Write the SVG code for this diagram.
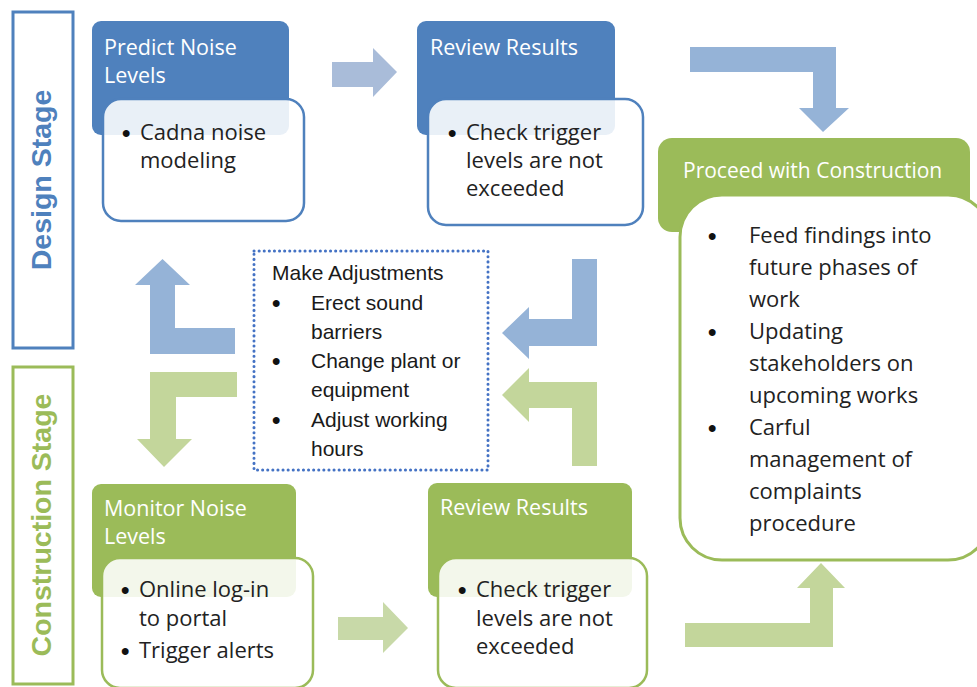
<svg xmlns="http://www.w3.org/2000/svg" width="977" height="687" viewBox="0 0 977 687">
  <style>
    .hdr-b { fill: #4f81bd; }
    .hdr-g { fill: #9bbb59; }
    .card-b { fill: #ffffff; fill-opacity: 0.88; stroke: #4f81bd; stroke-width: 2.5; }
    .card-g { fill: #ffffff; fill-opacity: 0.88; stroke: #9bbb59; stroke-width: 2.5; }
    .htxt { font-family: "Open Sans", "Liberation Sans", sans-serif; font-size: 21.5px; fill: #ffffff; }
    .btxt { font-family: "Open Sans", "Liberation Sans", sans-serif; font-size: 22px; fill: #222222; }
    .dot { font-family: "Liberation Sans", Arial, sans-serif; font-size: 24px; font-weight: bold; fill: #111111; }
    .atxt { font-family: "Liberation Sans", Arial, sans-serif; font-size: 21px; fill: #1a1a1a; }
    .stage { font-family: "Liberation Sans", Arial, sans-serif; font-size: 28.5px; font-weight: bold; }
    .arr-b { fill: #95b3d7; }
    .arr-b2 { fill: #a9bcd9; }
    .arr-g { fill: #c3d69b; }
    .arr-g2 { fill: #c8d9a8; }
  </style>

  <!-- stage bands -->
  <g id="design-stage">
    <rect x="13" y="12" width="60" height="336" fill="#ffffff" stroke="#4f81bd" stroke-width="3"/>
    <text class="stage" fill="#4f81bd" text-anchor="middle" transform="translate(51,180) rotate(-90)">Design Stage</text>
  </g>
  <g id="construction-stage">
    <rect x="13" y="367" width="60" height="317" fill="#ffffff" stroke="#9bbb59" stroke-width="3"/>
    <text class="stage" fill="#9bbb59" text-anchor="middle" transform="translate(51,525) rotate(-90)">Construction Stage</text>
  </g>

  <!-- connectors -->
  <g id="connectors">
    <!-- predict -> review (design) -->
    <polygon class="arr-b2" points="332,62 373,62 373,48 397,72 373,97 373,87 332,87"/>
    <!-- review (design) -> proceed -->
    <polygon class="arr-b" points="690,47 836,47 836,108 849,108 823,132 799,108 813,108 813,72 690,72"/>
    <!-- review (construction) -> proceed -->
    <polygon class="arr-g" points="685,647 833,647 833,588 845,588 821,563 797,588 810,588 810,623 685,623"/>
    <!-- monitor -> review (construction) -->
    <polygon class="arr-g2" points="338,617 383,617 383,602 408,628 383,653 383,640 338,640"/>
    <!-- review (design) -> adjustments -->
    <polygon class="arr-b" points="572,259 597,259 597,346 529,346 529,359 502,333 529,307 529,319 572,319"/>
    <!-- review (construction) -> adjustments -->
    <polygon class="arr-g" points="597,466 572,466 572,408 529,408 529,422 502,395 529,368 529,382 597,382"/>
    <!-- adjustments -> predict -->
    <polygon class="arr-b" points="235,328 175,328 175,285 190,285 162.5,259 135,285 150,285 150,354 235,354"/>
    <!-- adjustments -> monitor -->
    <polygon class="arr-g" points="237,372 237,397 176,397 176,439 192,439 164,467 137,439 150,439 150,372"/>
  </g>

  <!-- design stage: predict noise levels -->
  <g id="predict-noise">
    <rect class="hdr-b" x="92" y="21" width="197" height="114" rx="9"/>
    <text class="htxt" x="104" y="55">Predict Noise</text>
    <text class="htxt" x="104" y="83">Levels</text>
    <rect class="card-b" x="103" y="99" width="201" height="122" rx="18"/>
    <text class="dot" x="122" y="141">•</text>
    <text class="btxt" x="140" y="140">Cadna noise</text>
    <text class="btxt" x="140" y="168">modeling</text>
  </g>

  <!-- design stage: review results -->
  <g id="review-design">
    <rect class="hdr-b" x="417" y="21" width="198" height="114" rx="9"/>
    <text class="htxt" x="430" y="55">Review Results</text>
    <rect class="card-b" x="428" y="99" width="215" height="126" rx="18"/>
    <text class="dot" x="448" y="141">•</text>
    <text class="btxt" x="466" y="140">Check trigger</text>
    <text class="btxt" x="466" y="168">levels are not</text>
    <text class="btxt" x="466" y="196">exceeded</text>
  </g>

  <!-- proceed with construction -->
  <g id="proceed">
    <rect class="hdr-g" x="658" y="138" width="312" height="94" rx="14"/>
    <text class="htxt" x="683" y="178" style="font-size:21px">Proceed with Construction</text>
    <rect x="680" y="195" width="310" height="365" rx="42" fill="#ffffff" stroke="#9bbb59" stroke-width="3"/>
    <g class="dot">
      <text x="708" y="244">•</text>
      <text x="708" y="340">•</text>
      <text x="708" y="436">•</text>
    </g>
    <g class="btxt">
      <text x="749" y="243">Feed findings into</text>
      <text x="749" y="275">future phases of</text>
      <text x="749" y="307">work</text>
      <text x="749" y="339">Updating</text>
      <text x="749" y="371">stakeholders on</text>
      <text x="749" y="403">upcoming works</text>
      <text x="749" y="435">Carful</text>
      <text x="749" y="467">management of</text>
      <text x="749" y="499">complaints</text>
      <text x="749" y="531">procedure</text>
    </g>
  </g>

  <!-- make adjustments -->
  <g id="adjustments">
    <rect x="254" y="251" width="234" height="219" fill="#ffffff" stroke="#4472c4" stroke-width="3" stroke-dasharray="0.1 5" stroke-linecap="round"/>
    <g class="atxt">
      <text x="272" y="280">Make Adjustments</text>
      <text x="311" y="310">Erect sound</text>
      <text x="311" y="339">barriers</text>
      <text x="311" y="368">Change plant or</text>
      <text x="311" y="397">equipment</text>
      <text x="311" y="427">Adjust working</text>
      <text x="311" y="456">hours</text>
    </g>
    <g class="dot">
      <text x="272" y="311">•</text>
      <text x="272" y="369">•</text>
      <text x="272" y="428">•</text>
    </g>
  </g>

  <!-- construction stage: monitor noise levels -->
  <g id="monitor-noise">
    <rect class="hdr-g" x="92" y="484" width="204" height="113" rx="9"/>
    <text class="htxt" x="104" y="516">Monitor Noise</text>
    <text class="htxt" x="104" y="544">Levels</text>
    <rect class="card-g" x="102" y="558" width="211" height="130" rx="18"/>
    <text class="dot" x="121" y="598">•</text>
    <text class="btxt" x="139" y="597">Online log-in</text>
    <text class="btxt" x="139" y="626">to portal</text>
    <text class="dot" x="121" y="659">•</text>
    <text class="btxt" x="139" y="658">Trigger alerts</text>
  </g>

  <!-- construction stage: review results -->
  <g id="review-construction">
    <rect class="hdr-g" x="428" y="483" width="204" height="114" rx="9"/>
    <text class="htxt" x="440" y="515">Review Results</text>
    <rect class="card-g" x="438" y="558" width="209" height="130" rx="18"/>
    <text class="dot" x="458" y="598">•</text>
    <text class="btxt" x="476" y="597">Check trigger</text>
    <text class="btxt" x="476" y="626">levels are not</text>
    <text class="btxt" x="476" y="654">exceeded</text>
  </g>
</svg>
